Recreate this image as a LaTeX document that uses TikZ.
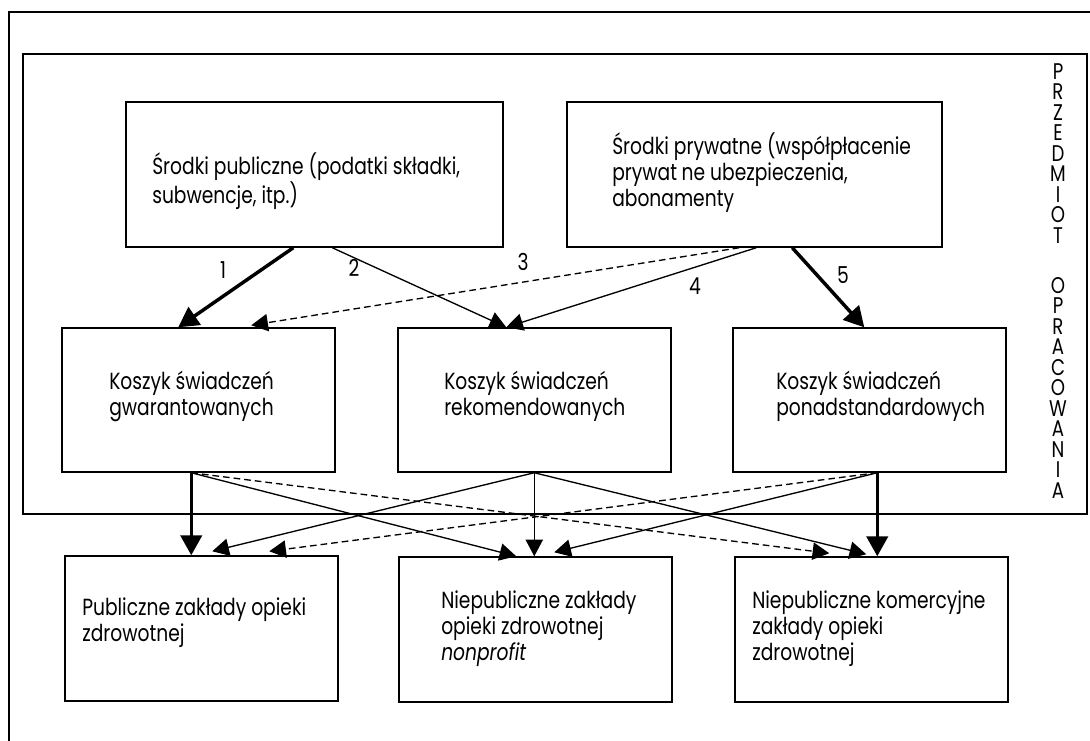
\documentclass[tikz,border=0pt]{standalone}
\usepackage{fontspec}
\setmainfont{Poppins}[FakeStretch=0.80]
\usetikzlibrary{arrows.meta,fit,calc}
\newcommand{\mainsz}{\fontsize{17.5pt}{19.5pt}\selectfont}
\newcommand{\vertsz}{\fontsize{17pt}{15.4pt}\selectfont}
\newcommand{\mylines}[1]{\vtop{\baselineskip=19.5pt\halign{##\hfil\cr#1\crcr}}}
\newcommand{\mycol}[1]{\vtop{\baselineskip=15.4pt\halign{\hfil##\hfil\cr#1\crcr}}}
\begin{document}
\begin{tikzpicture}[x=0.75pt,y=-0.75pt,
  box/.style={draw,line width=1.1pt,inner sep=0pt},
  txt/.style={anchor=base west,inner sep=0pt,font=\mainsz},
  lab/.style={inner sep=0pt,font=\mainsz},
  thk/.style={line width=2.6pt,-{Triangle[length=15pt,width=16pt]}},
  thn/.style={line width=1pt,-{Triangle[length=12.5pt,width=13pt]}},
  dsh/.style={thn,dash pattern=on 5pt off 3pt}]
\useasboundingbox (0,0) rectangle (1090,740);
\fill[white] (0,0) rectangle (1090,740);
\clip (0,0) rectangle (1090,740);
% outer frame
\draw[line width=1.1pt] (9,760) -- (9,12) -- (1110,12);
% inner frame
\node[box,fit={(23,54) (1087,514)}] (frame) {};
% top boxes
\node[box,fit={(126,102) (503,247)}] (pub) {};
\node[box,fit={(567,102) (942,247)}] (prv) {};
% middle boxes
\node[box,fit={(62,328) (335,472)}] (k1) {};
\node[box,fit={(398,328) (671,472)}] (k2) {};
\node[box,fit={(733,328) (1006,472)}] (k3) {};
% bottom boxes
\node[box,fit={(65,556) (338,701)}] (b1) {};
\node[box,fit={(399,557) (672,702)}] (b2) {};
\node[box,fit={(735,557) (1008,702)}] (b3) {};
% texts
\node[txt] (tpub) at (152,174) {\mylines{Środki publiczne (podatki składki,\cr subwencje, itp.)}};
\node[txt] (tprv) at (612,154) {\mylines{Środki prywatne (współpłacenie\cr prywat\kern0.2em ne ubezpieczenia,\cr abonamenty}};
\node[txt] (tk1) at (109,389) {\mylines{Koszyk świadczeń\cr gwarantowanych}};
\node[txt] (tk2) at (444,389) {\mylines{Koszyk świadczeń\cr rekomendowanych}};
\node[txt] (tk3) at (776,389) {\mylines{Koszyk świadczeń\cr ponadstandardowych}};
\node[txt] (tb1) at (82,615) {\mylines{Publiczne zakłady opieki\cr zdrowotnej}};
\node[txt] (tb2) at (441,608) {\mylines{Niepubliczne zakłady\cr opieki zdrowotnej\cr \textit{nonprofit}}};
\node[txt] (tb3) at (752,608) {\mylines{Niepubliczne komercyjne\cr zakłady opieki\cr zdrowotnej}};
% vertical label
\node[anchor=base,inner sep=0pt,font=\vertsz] (side) at (1058,79)
  {\mycol{P\cr R\cr Z\cr E\cr D\cr M\cr I\cr O\cr T\cr\noalign{\vskip 22pt}O\cr P\cr R\cr A\cr C\cr O\cr W\cr A\cr N\cr I\cr A}};
% anchor coordinates
\coordinate (pub1) at ($(pub.south west)+(168,0)$);
\coordinate (pub2) at ($(pub.south west)+(207,0)$);
\coordinate (prv3) at ($(prv.south west)+(173,0)$);
\coordinate (prv4) at ($(prv.south west)+(190,0)$);
\coordinate (prv5) at ($(prv.south west)+(226,0)$);
\coordinate (k1a) at ($(k1.north west)+(117,0)$);
\coordinate (k1b) at ($(k1.north west)+(190,0)$);
\coordinate (k2a) at ($(k2.north west)+(109,0)$);
\coordinate (k3a) at ($(k3.north west)+(132,0)$);
\coordinate (k1o) at ($(k1.south west)+(130,0)$);
\coordinate (k2o) at ($(k2.south west)+(137,0)$);
\coordinate (k3o) at ($(k3.south west)+(145,0)$);
\coordinate (b1a) at ($(b1.north west)+(127,0)$);
\coordinate (b1b) at ($(b1.north west)+(148,-4)$);
\coordinate (b1c) at ($(b1.north west)+(205,-4)$);
\coordinate (b2a) at ($(b2.north west)+(118,0)$);
\coordinate (b2b) at ($(b2.north west)+(136,0)$);
\coordinate (b2c) at ($(b2.north west)+(156,-4)$);
\coordinate (b3a) at ($(b3.north west)+(95,-3)$);
\coordinate (b3b) at ($(b3.north west)+(132,-2)$);
\coordinate (b3c) at ($(b3.north west)+(143,0)$);
% top arrows
\draw[thk] (pub1) -- (k1a);
\draw[thn] (pub2) -- (k2a);
\draw[dsh] (prv3) -- ($(k1b)+(0,-2)$);
\draw[thn] (prv4) -- (k2a);
\draw[thk] (prv5) -- (k3a);
% labels
\node[lab] (l1) at (223,270) {1};
\node[lab] (l2) at (354,268) {2};
\node[lab] (l3) at (523,262) {3};
\node[lab] (l4) at (695,286) {4};
\node[lab] (l5) at (843,275) {5};
% bottom arrows
\draw[thk] (k1o) -- (b1a);
\draw[thn] (k1o) -- (b2a);
\draw[dsh] (k1o) -- (b3a);
\draw[thn] (k2o) -- (b1b);
\draw[thn] (k2o) -- (b2b);
\draw[thn] (k2o) -- (b3b);
\draw[dsh] (k3o) -- (b1c);
\draw[thn] (k3o) -- (b2c);
\draw[thk] (k3o) -- (b3c);
\end{tikzpicture}
\end{document}
